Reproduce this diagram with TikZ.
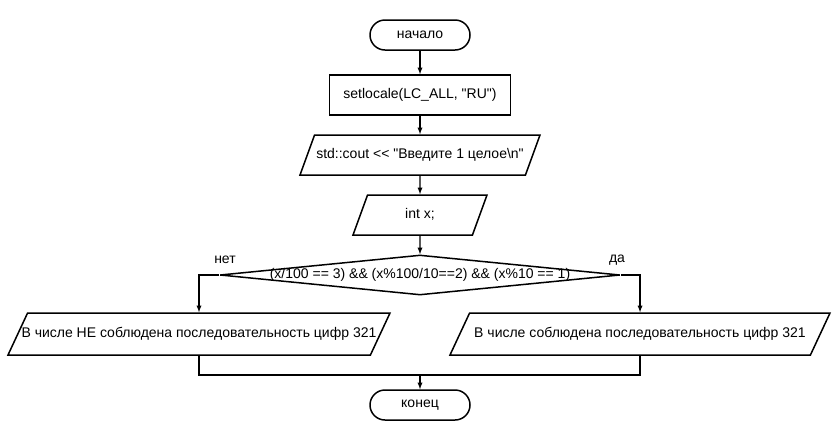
\documentclass[tikz,border=0pt]{standalone}
\usepackage{fontspec}
\setmainfont{Liberation Sans}
\usetikzlibrary{shapes.geometric}
\usetikzlibrary{arrows}

\begin{document}
\begin{tikzpicture}[x=1pt, y=-1pt, >=latex, font=\fontsize{14}{16}\selectfont,
    term/.style={draw, line width=1.5pt, rounded corners=15pt, minimum width=100pt, minimum height=30pt, inner sep=0pt},
    proc/.style={draw, line width=1.5pt, minimum width=181pt, minimum height=40pt, inner sep=0pt},
    io/.style={draw, line width=1.5pt, trapezium, trapezium left angle=70, trapezium right angle=110,
      trapezium stretches body, text height=10pt, text depth=3pt, inner xsep=0pt, inner ysep=13.5pt},
    cond/.style={draw, line width=1.5pt, diamond, minimum width=400pt, minimum height=40pt, inner sep=0pt},
    line/.style={line width=1.3pt}]
  \path[use as bounding box] (0, 0) rectangle (840, 440);

  \node[term] at (420, 35) (start) {начало};
  \node[proc] at (420, 95) (locale) {setlocale(LC\_ALL, \textquotedbl RU\textquotedbl)};
  \node[io, minimum width=240pt] at (420, 155) (prompt) {std::cout <{}< \textquotedbl Введите 1 целое\textbackslash n\textquotedbl};
  \node[io, minimum width=134pt] at (420, 215) (decl) {int x;};
  \node[cond] at (420, 275) (check) {\makebox[0pt]{(x/100 == 3) \&\& (x\%100/10==2) \&\& (x\%10 == 1)}};

  \node[io, minimum width=382pt, inner ysep=14.5pt, trapezium left angle=65, trapezium right angle=115] at (199, 334) (no)
    {\makebox[0pt]{В числе НЕ соблюдена последовательность цифр 321}};
  \node[io, minimum width=380pt, inner ysep=14.5pt, trapezium left angle=65, trapezium right angle=115] at (640, 334) (yes)
    {В числе соблюдена последовательность цифр 321};

  \node at (225, 260) (nolbl) {нет};
  \node at (617, 260) (yeslbl) {да};

  \node[term] at (420, 405) (stop) {конец};
  \coordinate (merge) at (420, 375);

  \draw[line, ->] (start) -- (locale);
  \draw[line, ->] (locale) -- (prompt);
  \draw[line, ->] (prompt) -- (decl);
  \draw[line, ->] (decl) -- (check);
  \draw[line, ->] (check.west) -| (no.north);
  \draw[line, ->] (check.east) -| (yes.north);
  \draw[line] (no.south) |- (merge) -| (yes.south);
  \draw[line, ->] (merge) -- (stop);
\end{tikzpicture}
\end{document}
